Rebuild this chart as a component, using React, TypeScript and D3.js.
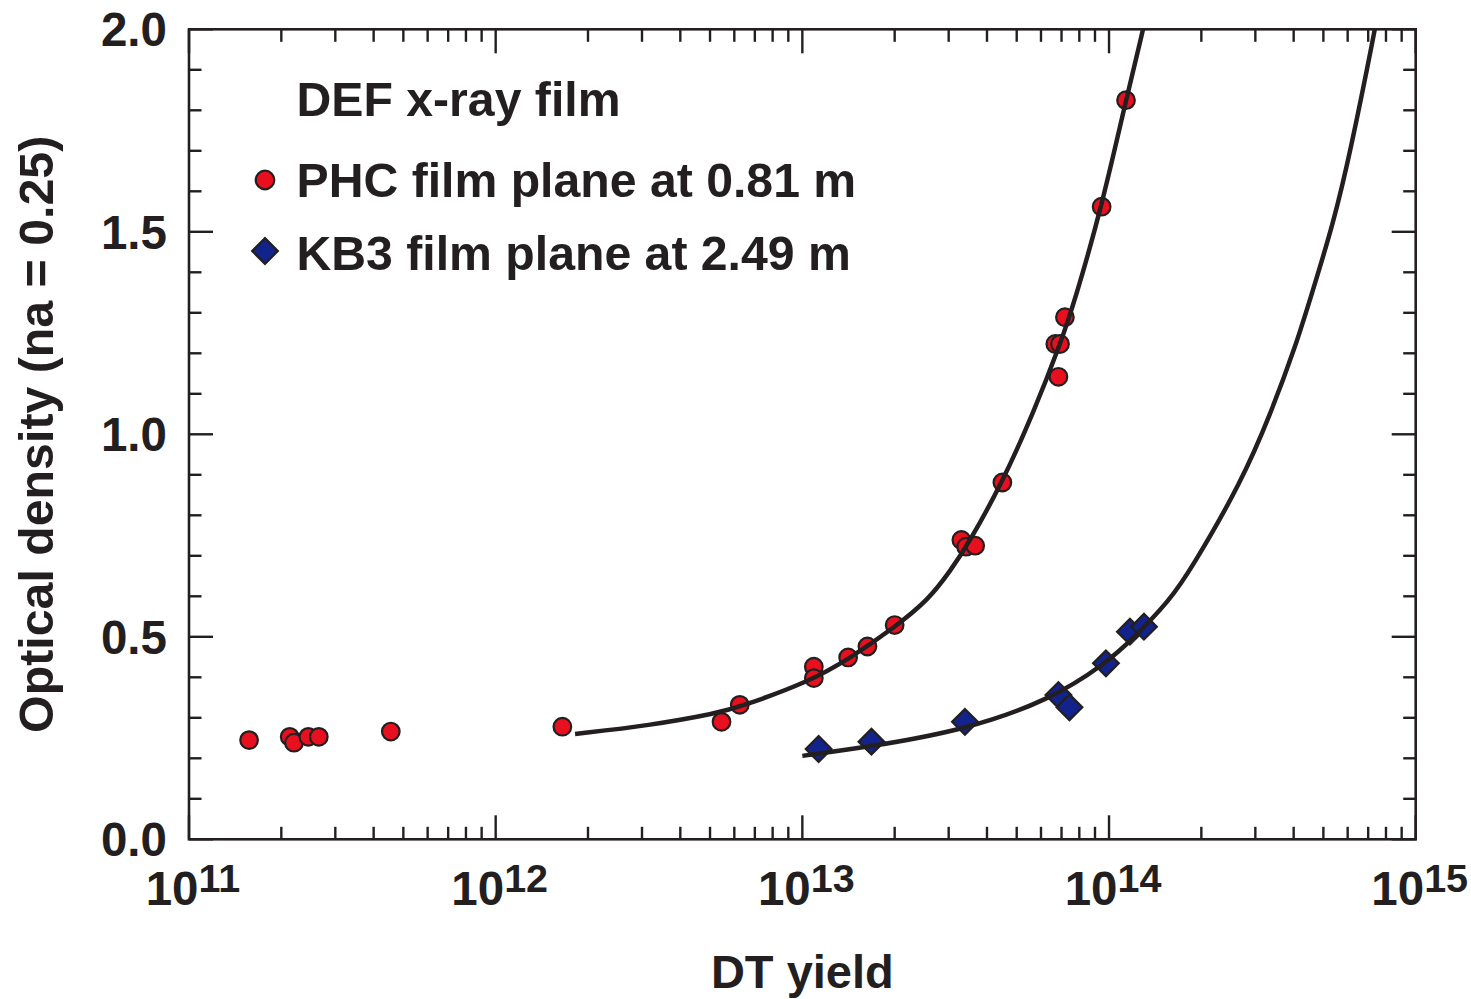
import React from "react";
import * as d3 from "d3";

// ---- data ----
const phcYield = [1.57e11, 2.13e11, 2.2e11, 2.45e11, 2.65e11, 4.55e11, 1.65e12, 5.45e12, 6.25e12, 1.09e13, 1.09e13, 1.41e13, 1.63e13, 2.0e13, 3.3e13, 3.42e13, 3.66e13, 4.49e13, 6.84e13, 6.68e13, 6.92e13, 7.18e13, 9.46e13, 1.136e14];
const phcOD = [0.245, 0.253, 0.2385, 0.253, 0.253, 0.266, 0.278, 0.29, 0.332, 0.426, 0.398, 0.449, 0.476, 0.529, 0.739, 0.7225, 0.725, 0.881, 1.142, 1.223, 1.223, 1.289, 1.562, 1.825];

const kb3Yield = [1.13e13, 1.68e13, 3.39e13, 6.84e13, 7.43e13, 9.77e13, 1.17e14, 1.3e14];
const kb3OD = [0.223, 0.241, 0.29, 0.356, 0.326, 0.4346, 0.5126, 0.525];

const phcFitYield = [1.815e12, 3.18e12, 5.26e12, 6.27e12, 1.06e13, 1.43e13, 1.98e13, 2.58e13, 3.05e13, 3.45e13, 4.49e13, 5.66e13, 6.92e13, 7.75e13, 9.47e13, 1.136e14, 1.294e14, 1.34e14];
const phcFitOD = [0.26, 0.281, 0.311, 0.327, 0.39, 0.447, 0.521, 0.591, 0.665, 0.725, 0.881, 1.052, 1.2205, 1.332, 1.562, 1.826, 2.0, 2.06];

const kb3FitYield = [1.0e13, 1.68e13, 3.39e13, 6.42e13, 9.78e13, 1.2e14, 1.58e14, 1.845e14, 2.7e14, 3.37e14, 4.07e14, 4.52e14, 5.39e14, 6.11e14, 7.37e14, 7.6e14];
const kb3FitOD = [0.206, 0.229, 0.27, 0.344, 0.4346, 0.496, 0.591, 0.665, 0.881, 1.052, 1.2205, 1.332, 1.521, 1.694, 2.0, 2.06];

const xDecades = [11, 12, 13, 14, 15];
const yMajorTicks = [0, 0.5, 1.0, 1.5, 2.0];
const yTickLabels = ["0.0", "0.5", "1.0", "1.5", "2.0"];

const titleText = "DEF x-ray film";
const phcLabel = "PHC film plane at 0.81 m";
const kb3Label = "KB3 film plane at 2.49 m";
const xTitle = "DT yield";
const yTitle = "Optical density (na = 0.25)";

// ---- layout ----
const W = 1471;
const H = 999;
const L = 189, R = 1415.7, T = 29.3, B = 839.3;
const INK = "#231f20";
const RED = "#e8101e";
const BLUE = "#13238c";
const FONT = "'Liberation Sans', Arial, Helvetica, sans-serif";

export default function App() {
  const x = d3.scaleLog().domain([1e11, 1e15]).range([L, R]);
  const y = d3.scaleLinear().domain([0, 2]).range([B, T]);

  const minorX: number[] = [];
  for (const d of xDecades.slice(0, -1)) {
    for (let k = 2; k <= 9; k++) minorX.push(k * Math.pow(10, d));
  }
  const minorY = d3.range(0, 21).map((i) => i / 10).filter((v) => Math.abs((v * 2) - Math.round(v * 2)) > 1e-6);

  const line = d3
    .line<[number, number]>()
    .x((d) => x(d[0]))
    .y((d) => y(d[1]))
    .curve(d3.curveBasis);

  const phcFit = phcFitYield.map((v, i) => [v, phcFitOD[i]] as [number, number]);
  const kb3Fit = kb3FitYield.map((v, i) => [v, kb3FitOD[i]] as [number, number]);

  const sq = d3.symbol().type(d3.symbolSquare).size(330)() as string;

  const MAJ = 24, MIN = 12.5;

  return (
    <svg width={W} height={H} style={{ position: "absolute", left: 0, top: 0, background: "#fff" }} fontFamily={FONT}>
      <defs>
        <clipPath id="plotClip">
          <rect x={L} y={T} width={R - L} height={B - T} />
        </clipPath>
      </defs>
      <rect x={0} y={0} width={W} height={H} fill="#fff" />

      {/* ticks */}
      <g stroke={INK} strokeWidth={2.4}>
        {xDecades.map((d) => (
          <g key={"xm" + d}>
            <line x1={x(Math.pow(10, d))} x2={x(Math.pow(10, d))} y1={B} y2={B - MAJ} />
            <line x1={x(Math.pow(10, d))} x2={x(Math.pow(10, d))} y1={T} y2={T + MAJ} />
          </g>
        ))}
        {minorX.map((v, i) => (
          <g key={"xn" + i}>
            <line x1={x(v)} x2={x(v)} y1={B} y2={B - MIN} />
            <line x1={x(v)} x2={x(v)} y1={T} y2={T + MIN} />
          </g>
        ))}
        {yMajorTicks.map((v) => (
          <g key={"ym" + v}>
            <line x1={L} x2={L + MAJ} y1={y(v)} y2={y(v)} />
            <line x1={R} x2={R - MAJ} y1={y(v)} y2={y(v)} />
          </g>
        ))}
        {minorY.map((v) => (
          <g key={"yn" + v}>
            <line x1={L} x2={L + MIN} y1={y(v)} y2={y(v)} />
            <line x1={R} x2={R - MIN} y1={y(v)} y2={y(v)} />
          </g>
        ))}
      </g>
      <rect x={L} y={T} width={R - L} height={B - T} fill="none" stroke={INK} strokeWidth={2.6} />

      {/* data points */}
      <g stroke={INK} strokeWidth={2.2}>
        {phcYield.map((v, i) => (
          <circle key={"p" + i} cx={x(v)} cy={y(phcOD[i])} r={8.8} fill={RED} />
        ))}
        {kb3Yield.map((v, i) => (
          <path key={"k" + i} d={sq} transform={`translate(${x(v)},${y(kb3OD[i])}) rotate(45)`} fill={BLUE} strokeLinejoin="miter" />
        ))}
      </g>

      {/* fit curves */}
      <g clipPath="url(#plotClip)" fill="none" stroke={INK} strokeWidth={4.5}>
        <path d={line(phcFit) as string} />
        <path d={line(kb3Fit) as string} />
      </g>

      {/* y tick labels */}
      <g fontSize={47.5} fontWeight="bold" fill={INK} textAnchor="end">
        {yMajorTicks.map((v, i) => (
          <text key={"yl" + v} x={167} y={y(v)} dy="0.36em">
            {yTickLabels[i]}
          </text>
        ))}
      </g>

      {/* x tick labels */}
      <g fontWeight="bold" fill={INK} textAnchor="middle">
        {xDecades.map((d) => (
          <text key={"xl" + d} x={x(Math.pow(10, d)) + 4} y={905} fontSize={47.5}>
            10
            <tspan fontSize={39.5} dy={-13}>
              {String(d)}
            </tspan>
          </text>
        ))}
      </g>

      {/* axis titles */}
      <text x={(L + R) / 2} y={988} textAnchor="middle" fontSize={47} fontWeight="bold" fill={INK}>
        {xTitle}
      </text>
      <text transform={`translate(53,${(T + B) / 2}) rotate(-90)`} textAnchor="middle" fontSize={48.3} fontWeight="bold" fill={INK}>
        {yTitle}
      </text>

      {/* legend */}
      <g fontSize={48.2} fontWeight="bold" fill={INK}>
        <text x={296.5} y={116}>{titleText}</text>
        <text x={296.5} y={197}>{phcLabel}</text>
        <text x={296.5} y={270}>{kb3Label}</text>
      </g>
      <circle cx={265} cy={180} r={9.3} fill={RED} stroke={INK} strokeWidth={2.2} />
      <path d={sq} transform={`translate(265,251) rotate(45)`} fill={BLUE} stroke={INK} strokeWidth={2.2} />
    </svg>
  );
}
